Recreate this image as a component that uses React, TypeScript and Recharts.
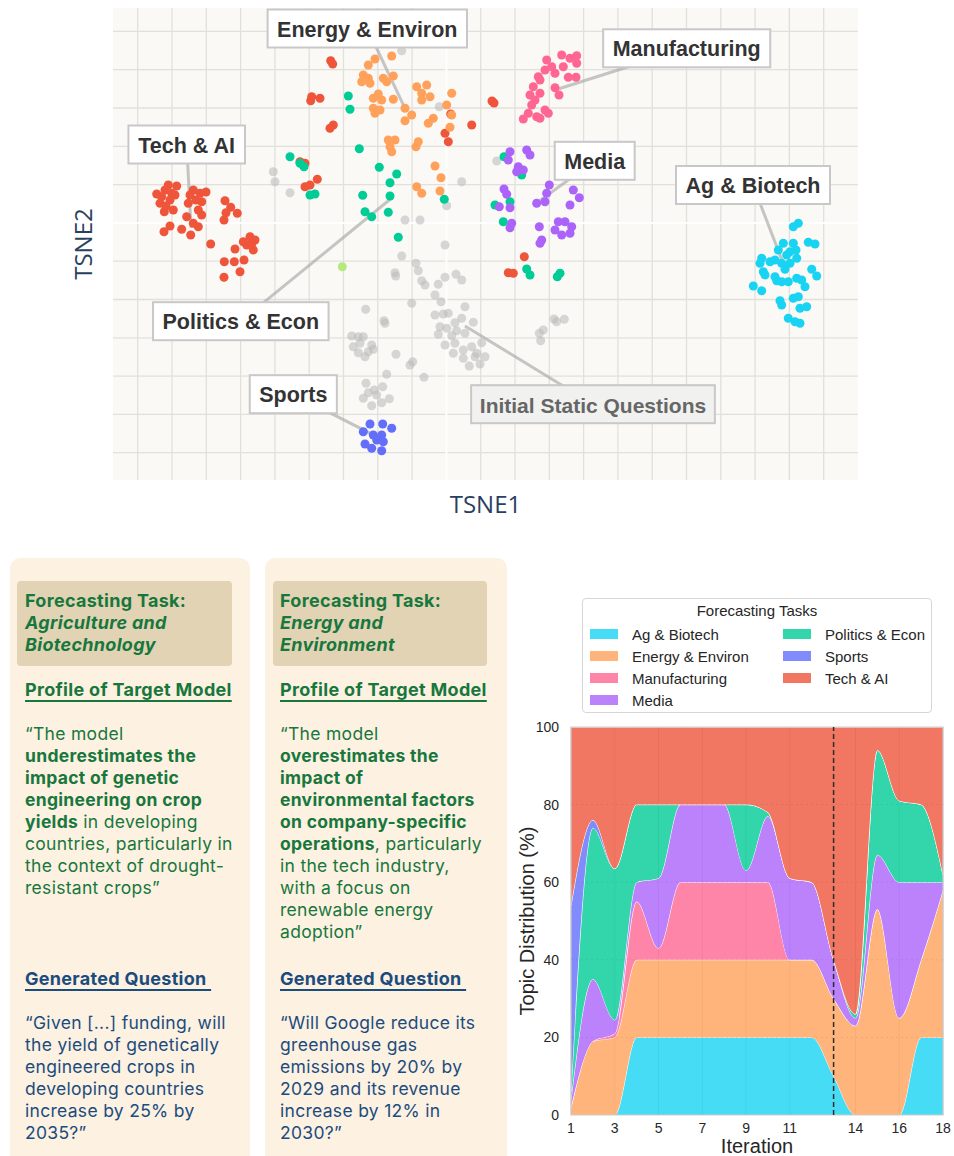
import React from "react";
import {
  ScatterChart,
  Scatter,
  XAxis,
  YAxis,
  ZAxis,
  CartesianGrid,
  ReferenceLine,
  ReferenceDot,
  ReferenceArea,
  AreaChart,
  Area,
} from "recharts";

type Pt = [number, number];

// ---- t-SNE embedding (arbitrary units) ----
const tsneXGrid = [2.47, 5.9, 9.33, 12.76, 16.19, 19.62, 23.05, 26.48, 29.91, 33.34, 36.77, 40.2, 43.63, 47.06, 50.49, 53.92, 57.35, 60.78, 64.21, 67.64, 71.07];
const tsneYGrid = [2.73, 6.56, 10.39, 14.22, 18.05, 21.88, 25.71, 29.54, 33.37, 37.2, 41.03, 44.86];
const tsneZeroX = [33.34];
const tsneZeroY = [25.71];
const TSNE_X_DOMAIN: [number, number] = [0, 74.5];
const TSNE_Y_DOMAIN: [number, number] = [0, 47.2];

const initialPts: Pt[] = [
  [28.87, 42.93], [32.63, 37.33], [34.87, 29.83], [17.7, 28.73], [29.2, 26.0], [30.7, 26.0], [33.37, 27.43], [16.03, 30.83], [16.2, 29.83], [38.37, 31.9],
  [33.2, 23.5], [28.87, 22.4], [30.3, 21.67], [30.53, 20.93], [28.2, 20.73], [28.27, 20.4], [30.87, 19.93], [31.2, 19.5], [32.53, 19.57], [33.2, 20.27],
  [34.3, 20.57], [34.87, 20.0], [32.2, 18.5], [32.8, 17.83], [29.87, 17.67], [25.27, 17.07], [27.1, 15.93], [27.2, 15.67], [32.2, 16.5], [33.03, 16.6],
  [33.53, 16.67], [35.2, 17.33], [34.87, 16.17], [36.03, 15.77], [34.2, 15.73], [32.7, 15.33], [33.37, 15.17], [34.37, 14.93], [35.2, 14.67], [32.53, 14.57],
  [33.87, 14.43], [34.2, 13.67], [33.2, 13.5], [35.03, 13.0], [35.87, 13.33], [36.87, 13.73], [34.03, 12.67], [35.03, 12.17], [36.2, 12.33], [37.2, 12.33],
  [35.63, 11.4], [36.7, 11.6], [36.37, 12.67],
  [23.87, 14.4], [24.53, 14.33], [25.03, 14.33], [24.03, 13.33], [24.7, 13.67], [25.87, 13.5], [26.03, 13.07], [24.53, 12.73], [25.2, 12.33], [25.53, 12.83],
  [28.3, 12.57], [29.7, 11.5], [29.97, 11.83], [27.37, 10.57], [31.1, 10.27],
  [25.3, 9.67], [26.97, 9.33], [26.13, 9.0], [25.53, 8.73], [26.37, 8.5], [25.03, 8.17], [27.63, 8.13], [26.87, 7.73], [25.87, 7.43],
  [42.63, 14.67], [43.03, 15.0], [42.77, 13.93], [44.1, 16.1], [44.37, 15.83], [45.13, 16.07],
];

const techAiPts: Pt[] = [
  [5.53, 29.5], [6.37, 29.4], [5.2, 29.0], [5.87, 28.67], [4.37, 28.6], [4.87, 28.33], [6.2, 28.5], [5.7, 28.0], [4.7, 27.67], [5.3, 27.4],
  [6.03, 27.0], [5.13, 26.83], [8.03, 29.0], [7.7, 28.5], [8.7, 28.67], [9.3, 28.8], [8.3, 28.0], [8.87, 27.83], [7.53, 27.67], [8.53, 27.0],
  [8.87, 26.5], [7.37, 26.33], [8.03, 25.67], [8.53, 25.33], [5.7, 25.4], [5.1, 24.83], [6.87, 25.07], [7.77, 24.5], [11.2, 27.93], [11.77, 27.27],
  [11.3, 26.73], [12.43, 26.67], [11.1, 26.0], [9.77, 23.6], [13.7, 24.33], [14.2, 24.0], [13.37, 23.5], [14.03, 23.0], [13.03, 23.83], [13.87, 23.6],
  [12.2, 23.1], [11.13, 21.83], [12.13, 21.83], [13.1, 22.0], [12.7, 20.83], [11.1, 20.27],
  [21.77, 41.93], [21.97, 41.6], [19.87, 38.33], [20.7, 38.17], [19.77, 37.93], [22.03, 35.5], [21.7, 35.17], [35.87, 35.5], [33.2, 34.67], [33.53, 33.83],
  [33.77, 36.6], [18.7, 31.83], [19.2, 31.67], [19.2, 29.33], [20.43, 30.07], [19.7, 29.5], [37.9, 37.9], [38.1, 37.7], [41.13, 22.33], [39.53, 20.73], [40.03, 20.67],
];

const energyPts: Pt[] = [
  [25.53, 41.5], [26.2, 42.1], [27.87, 42.4], [25.03, 40.5], [25.53, 40.17], [24.87, 39.83], [25.7, 39.67], [27.03, 40.17], [28.03, 40.4], [27.37, 39.83],
  [26.53, 38.6], [26.03, 38.17], [26.87, 38.0], [28.03, 38.07], [26.03, 37.17], [26.7, 37.0], [26.2, 36.67], [29.2, 37.17], [29.87, 36.5], [29.2, 35.93],
  [30.37, 39.33], [31.37, 39.5], [30.87, 38.67], [31.7, 38.33], [30.87, 38.0], [33.87, 38.67], [33.37, 37.5], [33.87, 36.5], [32.03, 36.17], [31.53, 35.67],
  [33.7, 35.27], [27.53, 34.0], [28.2, 34.0], [27.7, 33.33], [27.87, 32.83], [30.53, 33.83], [30.3, 33.33], [32.2, 31.4], [32.8, 30.23], [30.37, 29.33],
  [30.87, 28.67], [32.7, 28.9],
];

const manufacturingPts: Pt[] = [
  [44.87, 42.5], [45.7, 42.17], [46.37, 42.43], [46.37, 41.67], [43.37, 42.0], [43.87, 41.33], [43.2, 41.0], [44.2, 40.67], [45.03, 41.33], [42.53, 40.33],
  [42.7, 40.0], [45.53, 40.27], [46.3, 40.27], [44.2, 39.23], [42.03, 39.33], [42.7, 38.67], [41.7, 38.5], [42.2, 38.0], [41.87, 37.5], [43.2, 37.0],
  [43.53, 36.67], [41.53, 36.67], [42.37, 36.33], [42.7, 36.17], [41.03, 36.1], [44.6, 38.5],
];

const politicsPts: Pt[] = [
  [23.53, 38.4], [23.7, 37.07], [24.63, 33.13], [17.7, 32.33], [18.7, 31.67], [19.1, 31.33], [26.63, 31.27], [28.37, 30.6], [27.7, 29.73], [19.7, 28.5],
  [20.2, 28.6], [24.97, 28.47], [27.7, 28.4], [25.2, 26.83], [25.87, 26.33], [27.53, 26.77], [33.13, 28.07], [28.53, 24.27],
  [39.1, 32.33], [40.87, 30.5], [38.2, 27.5], [39.7, 27.83], [39.03, 25.83],
  [41.37, 21.1], [41.7, 20.5], [44.43, 20.33], [44.7, 20.67],
];

const mediaPts: Pt[] = [
  [39.7, 32.83], [39.53, 32.0], [41.37, 33.0], [41.7, 32.5], [40.53, 31.33], [41.03, 31.0], [40.37, 30.83], [39.1, 29.1], [39.37, 28.57], [38.63, 27.33],
  [39.7, 27.23], [39.87, 25.67], [39.7, 25.23], [43.63, 29.5], [43.37, 28.67], [42.37, 27.67], [43.2, 27.83], [46.03, 29.0], [46.63, 28.23], [45.7, 27.5],
  [42.63, 25.33], [44.53, 25.83], [45.2, 25.83], [44.2, 25.0], [44.87, 24.5], [45.87, 25.33], [45.7, 24.67], [42.87, 24.0], [42.7, 23.67],
];

const agBiotechPts: Pt[] = [
  [68.03, 25.33], [68.53, 25.67], [69.53, 23.77], [70.2, 23.6], [67.03, 23.67], [68.03, 23.67], [66.53, 23.0], [67.7, 22.83], [68.3, 23.0], [67.37, 22.5],
  [68.37, 22.17], [64.87, 22.17], [64.7, 21.67], [65.7, 21.83], [66.2, 22.0], [66.87, 21.67], [67.7, 21.67], [67.2, 21.07], [65.03, 20.83], [65.2, 20.5],
  [66.2, 20.33], [66.37, 19.93], [66.87, 19.83], [67.53, 19.83], [68.37, 20.17], [68.87, 20.0], [69.2, 19.33], [69.87, 21.07], [70.37, 20.4], [64.03, 19.4],
  [64.87, 18.93], [66.7, 17.93], [66.87, 17.5], [68.03, 18.17], [68.53, 18.33], [68.7, 17.17], [69.37, 17.33], [67.53, 16.17], [68.2, 15.83], [68.7, 15.67],
];

const sportsPts: Pt[] = [
  [25.7, 5.6], [26.97, 5.6], [27.87, 5.17], [25.03, 4.83], [26.03, 4.5], [26.87, 4.5], [27.03, 3.83], [25.2, 3.6], [25.87, 3.17], [26.87, 2.93], [26.37, 4.0],
];

const otherPts: Pt[] = [[22.93, 21.33]];

// label position, and point the leader line reaches
const annotations = [
  { text: "Energy & Environ", x: 25.43, y: 45.15, tx: 29.2, ty: 37.17, muted: false },
  { text: "Tech & AI", x: 7.37, y: 33.55, tx: 7.8, ty: 25.2, muted: false },
  { text: "Manufacturing", x: 57.37, y: 43.17, tx: 44.2, ty: 39.0, muted: false },
  { text: "Media", x: 48.17, y: 31.92, tx: 42.53, ty: 27.83, muted: false },
  { text: "Ag & Biotech", x: 64.0, y: 29.5, tx: 67.2, ty: 21.2, muted: false },
  { text: "Politics & Econ", x: 12.78, y: 15.88, tx: 28.0, ty: 28.3, muted: false },
  { text: "Sports", x: 18.03, y: 8.58, tx: 26.37, ty: 4.33, muted: false },
  { text: "Initial Static Questions", x: 48.0, y: 7.58, tx: 35.2, ty: 15.4, muted: true },
];

const scatterGroups = [
  { name: "Initial Static Questions", pts: initialPts, color: "#bdbdbd", opacity: 0.6 },
  { name: "Tech & AI", pts: techAiPts, color: "#EF553B", opacity: 1 },
  { name: "Energy & Environ", pts: energyPts, color: "#FFA15A", opacity: 1 },
  { name: "Manufacturing", pts: manufacturingPts, color: "#FF6692", opacity: 1 },
  { name: "Politics & Econ", pts: politicsPts, color: "#00CC96", opacity: 1 },
  { name: "Media", pts: mediaPts, color: "#AB63FA", opacity: 1 },
  { name: "Ag & Biotech", pts: agBiotechPts, color: "#19D3F3", opacity: 1 },
  { name: "Sports", pts: sportsPts, color: "#636EFA", opacity: 1 },
  { name: "Other", pts: otherPts, color: "#B6E880", opacity: 1 },
];

// ---- topic distribution per iteration (%) ----
const iterations = [1, 2, 3, 4, 5, 6, 7, 8, 9, 10, 11, 12, 13, 14, 15, 16, 17, 18];
const iterTicks = [1, 3, 5, 7, 9, 11, 14, 16, 18];
const pctTicks = [0, 20, 40, 60, 80, 100];
const agShare = [0, 0, 0, 20, 20, 20, 20, 20, 20, 20, 20, 20, 10, 0, 0, 0, 20, 20];
const energyShare = [2, 19, 20, 20, 20, 20, 20, 20, 20, 20, 20, 20, 20, 23, 53, 25, 20, 38];
const manufacturingShare = [0, 0, 1, 15, 3, 20, 20, 20, 20, 20, 0, 0, 0, 0, 0, 0, 0, 0];
const mediaShare = [2, 16, 3.5, 5, 18, 20, 20, 20, 3, 17, 21, 20, 10, 2, 14, 35, 20, 2];
const politicsShare = [2, 39, 39, 20, 19, 0, 0, 0, 17, 1, 0, 0, 0, 1, 27, 21, 20, 2];
const sportsShare = [48, 2, 0, 0, 0, 0, 0, 0, 0, 0, 0, 0, 0, 0, 0, 0, 0, 0];
const techShare = [46, 24, 36.5, 20, 20, 20, 20, 20, 20, 22, 39, 40, 60, 74, 6, 19, 20, 38];

const areaSeries = [
  { key: "ag", label: "Ag & Biotech", color: "#19D3F3", values: agShare },
  { key: "energy", label: "Energy & Environ", color: "#FFA15A", values: energyShare },
  { key: "manufacturing", label: "Manufacturing", color: "#FF6692", values: manufacturingShare },
  { key: "media", label: "Media", color: "#AB63FA", values: mediaShare },
  { key: "politics", label: "Politics & Econ", color: "#00CC96", values: politicsShare },
  { key: "sports", label: "Sports", color: "#636EFA", values: sportsShare },
  { key: "tech", label: "Tech & AI", color: "#EF553B", values: techShare },
];

const areaData = iterations.map((it, i) => {
  const row: Record<string, number> = { iteration: it };
  areaSeries.forEach((s) => (row[s.key] = s.values[i]));
  return row;
});

const LABEL_FONT = 'bold 21.5px "Liberation Sans"';
let measureCtx: CanvasRenderingContext2D | null = null;
function textWidth(text: string) {
  if (!measureCtx) measureCtx = document.createElement("canvas").getContext("2d");
  if (!measureCtx) return text.length * 12;
  measureCtx.font = LABEL_FONT;
  return measureCtx.measureText(text).width;
}

// grid lines placed through the axis scale
const gridX = (values: number[]) => (args: any) => {
  const axis = args?.xAxis;
  if (axis && typeof axis.scale === "function") return values.map((v) => axis.scale(v));
  const o = args.offset;
  return values.map((v) => o.left + ((v - TSNE_X_DOMAIN[0]) / (TSNE_X_DOMAIN[1] - TSNE_X_DOMAIN[0])) * o.width);
};
const gridY = (values: number[]) => (args: any) => {
  const axis = args?.yAxis;
  if (axis && typeof axis.scale === "function") return values.map((v) => axis.scale(v));
  const o = args.offset;
  return values.map((v) => o.top + o.height - ((v - TSNE_Y_DOMAIN[0]) / (TSNE_Y_DOMAIN[1] - TSNE_Y_DOMAIN[0])) * o.height);
};

function AnnotationBox(props: any) {
  const { cx, cy, text, muted } = props;
  const w = textWidth(text) + (muted ? 12 : 19);
  const h = 38;
  return (
    <g>
      <rect
        x={cx - w / 2}
        y={cy - h / 2}
        width={w}
        height={h}
        fill={muted ? "#f1f1f0" : "#ffffff"}
        stroke="#c8c8c8"
        strokeWidth={2}
      />
      <text
        x={cx}
        y={cy + 1}
        textAnchor="middle"
        dominantBaseline="central"
        fontFamily="Liberation Sans, Arial, sans-serif"
        fontWeight={700}
        fontSize={muted ? 21 : 21.5}
        fill={muted ? "#666666" : "#333333"}
      >
        {text}
      </text>
    </g>
  );
}

function TsneScatter() {
  return (
    <ScatterChart width={954} height={520} margin={{ top: 8, right: 96, bottom: 0, left: 0 }}>
      <CartesianGrid
        fill="#faf9f5"
        stroke="#e2e0db"
        strokeWidth={1.3}
        verticalCoordinatesGenerator={gridX(tsneXGrid)}
        horizontalCoordinatesGenerator={gridY(tsneYGrid)}
      />
      <CartesianGrid
        fill="none"
        stroke="#ffffff"
        strokeWidth={2}
        verticalCoordinatesGenerator={gridX(tsneZeroX)}
        horizontalCoordinatesGenerator={gridY(tsneZeroY)}
      />
      <XAxis
        type="number"
        dataKey="x"
        domain={TSNE_X_DOMAIN}
        ticks={tsneXGrid}
        interval={0}
        tick={false}
        tickLine={false}
        axisLine={false}
        height={40}
        allowDataOverflow
        label={{ value: "TSNE1", position: "insideBottom", offset: 7, fontSize: 24, fill: "#2a3f5f", fontFamily: "Open Sans" }}
      />
      <YAxis
        type="number"
        dataKey="y"
        domain={TSNE_Y_DOMAIN}
        ticks={tsneYGrid}
        interval={0}
        tick={false}
        tickLine={false}
        axisLine={false}
        width={113}
        allowDataOverflow
        label={{ value: "TSNE2", angle: -90, position: "center", dx: 27, fontSize: 24, fill: "#2a3f5f", fontFamily: "Open Sans" }}
      />
      <ZAxis range={[133, 133]} />
      {scatterGroups.map((g) => (
        <Scatter
          key={g.name}
          name={g.name}
          data={g.pts.map(([x, y]) => ({ x, y }))}
          fill={g.color}
          fillOpacity={g.opacity}
          isAnimationActive={false}
        />
      ))}
      {annotations.map((a) => (
        <ReferenceLine
          key={"l" + a.text}
          segment={[
            { x: a.x, y: a.y },
            { x: a.tx, y: a.ty },
          ]}
          stroke="#a8a8a8"
          strokeOpacity={0.65}
          strokeWidth={3}
        />
      ))}
      {annotations.map((a) => (
        <ReferenceDot
          key={"b" + a.text}
          x={a.x}
          y={a.y}
          r={0}
          shape={(p: any) => <AnnotationBox cx={p.cx} cy={p.cy} text={a.text} muted={a.muted} />}
        />
      ))}
    </ScatterChart>
  );
}

function TopicAreaChart() {
  const tickStyle = { fontSize: 14, fill: "#262626", fontFamily: "Liberation Sans" };
  return (
    <div style={{ position: "relative", width: 444, height: 566 }}>
      <AreaChart width={444} height={566} data={areaData} margin={{ top: 137, right: 11, bottom: 0, left: 0 }}>
        <CartesianGrid horizontal={false} stroke="#d4d4d4" />
        <XAxis
          type="number"
          dataKey="iteration"
          domain={[1, 18]}
          ticks={iterTicks}
          interval={0}
          tickLine={false}
          axisLine={false}
          tickMargin={2}
          height={41}
          tick={tickStyle}
          label={{ value: "Iteration", position: "insideBottom", offset: 3, fontSize: 20, fill: "#262626", fontFamily: "Liberation Sans" }}
        />
        <YAxis
          type="number"
          domain={[0, 100]}
          ticks={pctTicks}
          interval={0}
          tickLine={false}
          axisLine={false}
          tickMargin={6}
          width={61}
          tick={tickStyle}
          label={{ value: "Topic Distribution (%)", angle: -90, position: "center", dx: -14, fontSize: 20, fill: "#262626", fontFamily: "Liberation Sans" }}
        />
        {areaSeries.map((s) => (
          <Area
            key={s.key}
            type="monotone"
            dataKey={s.key}
            name={s.label}
            stackId="1"
            stroke="#ffffff"
            strokeWidth={1}
            fill={s.color}
            fillOpacity={0.8}
            isAnimationActive={false}
          />
        ))}
        {[20, 40, 60, 80].map((v) => (
          <ReferenceLine key={v} y={v} stroke="#000" strokeOpacity={0.07} strokeDasharray="2 3" />
        ))}
        <ReferenceLine x={13} stroke="#2b2b2b" strokeDasharray="5 3" strokeWidth={1.5} />
        <ReferenceArea x1={1} x2={18} y1={0} y2={100} fill="none" stroke="#cccccc" strokeWidth={1.2} />
      </AreaChart>
      <div
        style={{
          position: "absolute",
          left: 72,
          top: 8,
          width: 350,
          height: 115,
          boxSizing: "border-box",
          border: "1px solid #d6d6d6",
          borderRadius: 4,
          background: "#fff",
          fontFamily: "Liberation Sans, Arial, sans-serif",
          fontSize: 15,
          color: "#262626",
        }}
      >
        <div style={{ position: "absolute", top: 3, width: "100%", textAlign: "center", lineHeight: "18px" }}>
          Forecasting Tasks
        </div>
        {areaSeries.map((s, i) => {
          const col = i < 4 ? 0 : 1;
          const row = i < 4 ? i : i - 4;
          return (
            <div
              key={s.key}
              style={{ position: "absolute", left: col === 0 ? 7 : 200, top: 25 + row * 22, height: 20, display: "flex", alignItems: "center" }}
            >
              <span style={{ width: 28, height: 10, background: s.color, opacity: 0.8, display: "inline-block" }} />
              <span style={{ marginLeft: 14 }}>{s.label}</span>
            </div>
          );
        })}
      </div>
    </div>
  );
}

const GREEN = "#17773d";
const BLUE = "#1b4c7e";

function Card(props: {
  left: number;
  width: number;
  boxLeft: number;
  boxWidth: number;
  task: string[];
  profile: React.ReactNode[];
  question: string[];
}) {
  const { left, width, boxLeft, boxWidth, task, profile, question } = props;
  const base: React.CSSProperties = {
    position: "absolute",
    left: 15,
    fontFamily: "Inter, sans-serif",
    lineHeight: "22px",
    whiteSpace: "pre",
    letterSpacing: 0.3,
  };
  const heading: React.CSSProperties = { ...base, fontWeight: 700, fontSize: 18 };
  const underline: React.CSSProperties = { textDecoration: "underline", textDecorationThickness: 2, textUnderlineOffset: 4 };
  return (
    <div style={{ position: "absolute", left, top: 558, width, height: 640, background: "#fdf1e2", borderRadius: 10 }}>
      <div style={{ position: "absolute", left: boxLeft, top: 23, width: boxWidth, height: 85, background: "#e2d3b4", borderRadius: 4 }} />
      <div style={{ ...heading, top: 32, color: GREEN }}>
        <div>Forecasting Task:</div>
        {task.map((t) => (
          <div key={t} style={{ fontStyle: "italic" }}>{t}</div>
        ))}
      </div>
      <div style={{ ...heading, ...underline, top: 121, color: GREEN }}>Profile of Target Model</div>
      <div style={{ ...base, top: 165, color: GREEN, fontSize: 17.5 }}>
        {profile.map((p, i) => (
          <div key={i}>{p}</div>
        ))}
      </div>
      <div style={{ ...heading, ...underline, top: 410, color: BLUE }}>{"Generated Question "}</div>
      <div style={{ ...base, top: 454, color: BLUE, fontSize: 17.5 }}>
        {question.map((q) => (
          <div key={q}>{q}</div>
        ))}
      </div>
    </div>
  );
}

export default function App() {
  return (
    <div style={{ position: "relative", width: 954, height: 1156, overflow: "hidden", background: "#fff" }}>
      <style>{"body{margin:0}"}</style>
      <div style={{ position: "absolute", left: 0, top: 0 }}>
        <TsneScatter />
      </div>
      <Card
        left={10}
        width={240}
        boxLeft={7}
        boxWidth={215}
        task={["Agriculture and", "Biotechnology"]}
        profile={[
          "\u201cThe model",
          <b>underestimates the</b>,
          <b>impact of genetic</b>,
          <b>engineering on crop</b>,
          <span><b>yields</b> in developing</span>,
          "countries, particularly in",
          "the context of drought-",
          "resistant crops\u201d",
        ]}
        question={[
          "\u201cGiven [...] funding, will",
          "the yield of genetically",
          "engineered crops in",
          "developing countries",
          "increase by 25% by",
          "2035?\u201d",
        ]}
      />
      <Card
        left={265}
        width={242}
        boxLeft={8}
        boxWidth={214}
        task={["Energy and", "Environment"]}
        profile={[
          "\u201cThe model",
          <b>overestimates the</b>,
          <b>impact of</b>,
          <b>environmental factors</b>,
          <b>on company-specific</b>,
          <span><b>operations</b>, particularly</span>,
          "in the tech industry,",
          "with a focus on",
          "renewable energy",
          "adoption\u201d",
        ]}
        question={[
          "\u201cWill Google reduce its",
          "greenhouse gas",
          "emissions by 20% by",
          "2029 and its revenue",
          "increase by 12% in",
          "2030?\u201d",
        ]}
      />
      <div style={{ position: "absolute", left: 510, top: 590 }}>
        <TopicAreaChart />
      </div>
    </div>
  );
}
